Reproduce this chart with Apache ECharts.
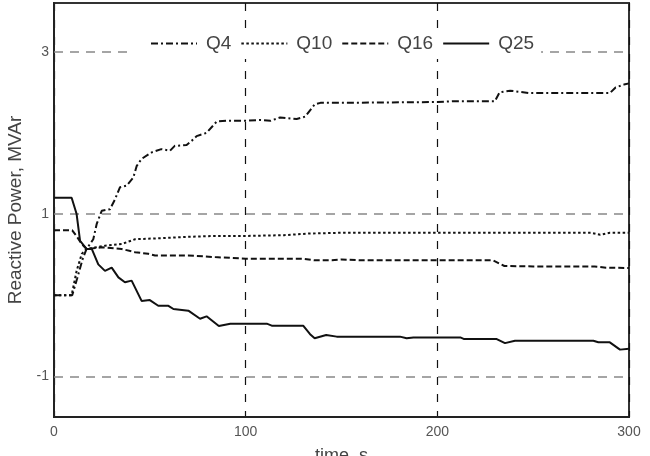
<!DOCTYPE html>
<html>
<head>
<meta charset="utf-8">
<script src="https://cdn.jsdelivr.net/npm/echarts@6/dist/echarts.min.js"></script>
<style>
  html, body { margin: 0; padding: 0; background: #fff; }
</style>
</head>
<body>
<div id="reactive" style="width:650px;height:456px;"></div>
<script>
  // values (time in s, reactive power in MVAr)
  const yTicks = [-1, 1, 3];
  const gridLevels = [-1, 1, 3];

  const q4T = [0, 9.5, 12, 15, 17, 20.5, 22.3, 24.9, 29.2, 31.8, 34.4, 37.9, 41.4, 43.1, 45.7, 51, 56, 60.5, 63, 69.2, 72.7, 74.4, 77, 79.6, 84.9, 90, 100.5, 107.5, 113, 118, 126.6, 131, 136, 139, 150, 200, 209, 230, 232.5, 238, 248, 260, 290, 293, 298, 300];
  const q4V = [0, 0, 0.2, 0.45, 0.57, 0.69, 0.88, 1.04, 1.06, 1.18, 1.33, 1.35, 1.45, 1.59, 1.68, 1.76, 1.8, 1.78, 1.84, 1.85, 1.92, 1.96, 1.98, 2.0, 2.14, 2.15, 2.15, 2.16, 2.15, 2.19, 2.17, 2.2, 2.35, 2.37, 2.37, 2.38, 2.39, 2.39, 2.5, 2.52, 2.49, 2.49, 2.49, 2.56, 2.6, 2.61];

  const q10T = [0, 9.2, 11.8, 14.5, 17, 26.6, 35.3, 42.3, 52.7, 70, 84, 100, 120, 133, 150, 200, 280, 285, 290, 300];
  const q10V = [0, 0, 0.3, 0.51, 0.57, 0.61, 0.63, 0.69, 0.7, 0.72, 0.73, 0.73, 0.74, 0.76, 0.77, 0.77, 0.77, 0.745, 0.77, 0.77];

  const q16T = [0, 9.5, 12, 14.5, 17, 24.9, 35.3, 42.3, 49.2, 52.7, 70, 84, 100, 130, 136, 145, 150, 160, 200, 229, 235, 250, 282, 288, 300];
  const q16V = [0.8, 0.8, 0.72, 0.63, 0.57, 0.59, 0.57, 0.53, 0.51, 0.49, 0.49, 0.47, 0.45, 0.45, 0.43, 0.43, 0.44, 0.43, 0.43, 0.43, 0.36, 0.355, 0.355, 0.34, 0.335];

  const q25T = [0, 9.2, 11.8, 13.6, 17, 19.7, 23.1, 26.6, 30.1, 33.6, 37, 40.5, 45.7, 50, 54.4, 59.7, 62.3, 70.1, 76.2, 79.6, 86, 92, 111, 113.6, 130, 133.6, 136, 142, 147.5, 180.5, 184, 187.5, 212, 214, 231, 235.3, 240.5, 281.4, 284, 290, 295.3, 300];
  const q25V = [1.2, 1.2, 1.0, 0.67, 0.57, 0.57, 0.38, 0.3, 0.34, 0.22, 0.16, 0.18, -0.07, -0.06, -0.13, -0.13, -0.17, -0.19, -0.29, -0.26, -0.38, -0.35, -0.35, -0.375, -0.375, -0.48, -0.53, -0.49, -0.51, -0.51, -0.53, -0.52, -0.52, -0.54, -0.54, -0.59, -0.56, -0.56, -0.58, -0.58, -0.67, -0.66];

  const pairs = (t, v) => t.map((x, i) => [x, v[i]]);

  const font = '"Liberation Sans", Arial, sans-serif';
  const lineSeries = (name, t, v, type) => ({
    name: name,
    type: 'line',
    symbol: 'none',
    data: pairs(t, v),
    lineStyle: { color: '#111', width: 2, type: type },
    itemStyle: { color: '#111' },
    z: 3
  });

  let myChart = echarts.init(document.getElementById('reactive'));
  let series = [
    lineSeries('Q4', q4T, q4V, [7, 3, 2, 3]),
    lineSeries('Q10', q10T, q10V, [2.5, 2.5]),
    lineSeries('Q16', q16T, q16V, [6, 3]),
    lineSeries('Q25', q25T, q25V, 'solid')
  ];
  // dashed horizontal grid lines
  series[3].markLine = {
    silent: true,
    symbol: 'none',
    label: { show: false },
    lineStyle: { color: '#888', type: [9, 7], width: 1.5 },
    data: gridLevels.map(y => ({ yAxis: y })),
    z: 1
  };

  myChart.setOption({
    animation: false,
    backgroundColor: '#fff',
    textStyle: { fontFamily: font },
    grid: {
      left: 54, right: 21, top: 3, bottom: 39,
      containLabel: false,
      outerBoundsMode: 'none',
      show: true, borderColor: '#333', borderWidth: 2
    },
    legend: {
      top: 28,
      left: 133,
      padding: [6, 7, 6, 17],
      backgroundColor: '#fff',
      itemWidth: 46,
      itemHeight: 10,
      itemGap: 9,
      itemStyle: { opacity: 0 },
      textStyle: { fontSize: 19, color: '#444', fontFamily: font, padding: [0, 0, 0, 4] },
      data: ['Q4', 'Q10', 'Q16', 'Q25']
    },
    xAxis: {
      type: 'value',
      min: 0,
      max: 300,
      interval: 100,
      name: 'time, s',
      nameLocation: 'middle',
      nameGap: 30,
      nameTextStyle: { fontSize: 18, color: '#444' },
      axisLine: { onZero: false, lineStyle: { color: '#222', width: 2 } },
      axisTick: { show: false },
      axisLabel: { fontSize: 14, color: '#555', margin: 8 },
      splitLine: { show: true, lineStyle: { color: '#111', type: [8, 9], width: 1.2 } }
    },
    yAxis: {
      type: 'value',
      min: -1.5,
      max: 3.6,
      interval: 0.5,
      name: 'Reactive Power, MVAr',
      nameLocation: 'middle',
      nameGap: 26,
      nameTextStyle: { fontSize: 19, color: '#444' },
      axisLine: { show: true, onZero: false, lineStyle: { color: '#222', width: 2 } },
      axisTick: { show: false },
      axisLabel: {
        fontSize: 14, color: '#555', margin: 5,
        showMaxLabel: false,
        formatter: v => yTicks.includes(v) ? String(v) : ''
      },
      splitLine: { show: false }
    },
    series: series
  });
</script>
</body>
</html>
